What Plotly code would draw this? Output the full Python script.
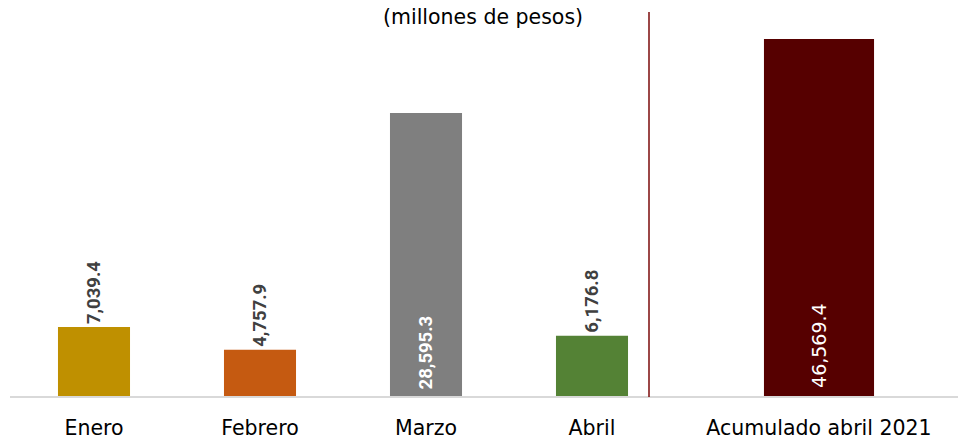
import plotly.graph_objects as go

# Data
months = ["Enero", "Febrero", "Marzo", "Abril"]
month_values = [7039.4, 4757.9, 28595.3, 6176.8]
month_colors = ["#BF9000", "#C55A11", "#7F7F7F", "#548235"]
total_label = ["Acumulado abril 2021"]
total_value = [46569.4]
total_color = "#560000"
title_text = "(millones de pesos)"

W, H = 958, 439
label_font = "Roboto"
tick_font = "DejaVu Sans"

def fmt(v, lead=""):
    return lead + f"{v:,.1f}"

# Large bars get their label inside, at the base
inside = [v > 20000 for v in month_values]
fig = go.Figure()
fig.add_trace(go.Bar(
    x=months, y=month_values,
    marker=dict(color=month_colors, line=dict(width=0)),
    width=0.434,
    text=[fmt(v, "\u00a0" if i else "") for v, i in zip(month_values, inside)],
    textposition=["inside" if i else "outside" for i in inside],
    insidetextanchor="start",
    textangle=-90,
    constraintext="none",
    cliponaxis=False,
    textfont=dict(family=label_font, size=18.5, weight="bold",
                  color=["#FFFFFF" if i else "#404040" for i in inside]),
    xaxis="x", yaxis="y",
    hoverinfo="skip",
))
fig.add_trace(go.Bar(
    x=total_label, y=total_value,
    marker=dict(color=total_color, line=dict(width=0)),
    width=0.396,
    text=[fmt(v, "\u00a0") for v in total_value],
    textposition="inside",
    insidetextanchor="start",
    textangle=-90,
    constraintext="none",
    textfont=dict(family=tick_font, size=19, color="#FFFFFF"),
    xaxis="x2", yaxis="y2",
    hoverinfo="skip",
))

tickfont = dict(family=tick_font, size=20.5, color="#000000")
fig.update_layout(
    width=W, height=H,
    margin=dict(l=0, r=0, t=0, b=42, autoexpand=False),
    paper_bgcolor="white", plot_bgcolor="white",
    showlegend=False,
    xaxis=dict(domain=[11 / W, 675 / W], showgrid=False, zeroline=False, automargin=False,
               showline=False, ticks="", ticklabelstandoff=16, tickfont=tickfont),
    xaxis2=dict(domain=[680 / W, 1], anchor="y2", showgrid=False, zeroline=False,
                automargin=False,
                showline=False, ticks="", ticklabelstandoff=16, tickfont=tickfont),
    yaxis=dict(range=[0, 39973], visible=False, domain=[0, 1]),
    yaxis2=dict(range=[0, 51642], visible=False, domain=[0, 1], anchor="x2"),
    shapes=[
        dict(type="line", xref="paper", yref="paper", x0=10 / W, x1=1, y0=0, y1=0,
             line=dict(color="#D9D9D9", width=2), layer="above"),
        dict(type="line", xref="paper", yref="paper", x0=649 / W, x1=649 / W,
             y0=0, y1=(397 - 12) / 397, line=dict(color="#7B0A0A", width=1.5)),
    ],
    annotations=[
        dict(text=title_text, xref="paper", yref="paper", x=483 / W, y=(397 - 17) / 397,
             showarrow=False, xanchor="center", yanchor="middle",
             font=dict(family=tick_font, size=20.5, color="#000000")),
    ],
)

fig.write_html("out.html", config={"displayModeBar": False},
               post_script="document.body.style.margin='0';document.body.style.padding='0';")
